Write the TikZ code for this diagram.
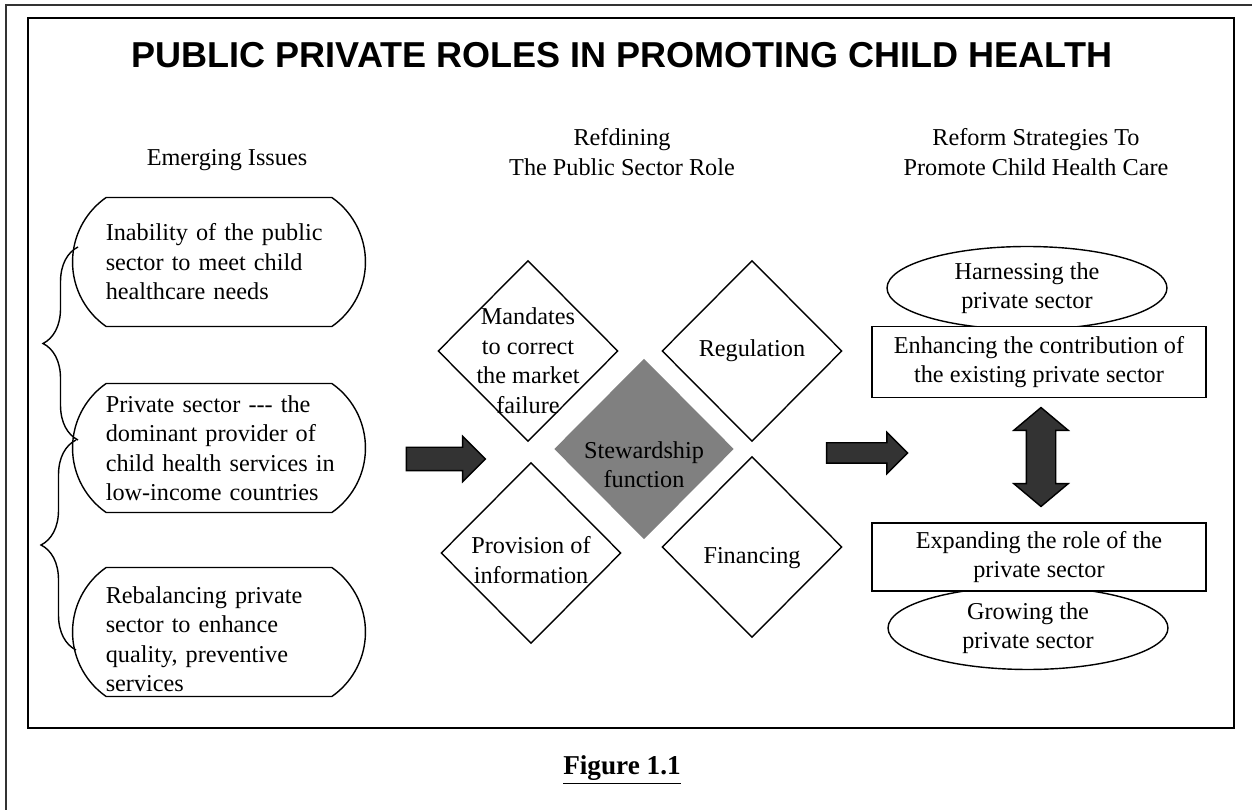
\documentclass[tikz,border=0pt]{standalone}
\usepackage{fontspec}
\setmainfont{Liberation Serif}
\newfontfamily\headfont{Liberation Sans}
\usetikzlibrary{shapes.geometric,shapes.misc,shapes.arrows,decorations.pathreplacing}

\begin{document}
\begin{tikzpicture}[x=0.02cm,y=-0.02cm,line width=0.8pt,
  font=\fontsize{13.8}{16.8}\selectfont,
  issue/.style={draw,rounded rectangle,rounded rectangle arc length=110,
    minimum width=5.86cm,minimum height=2.58cm,inner sep=0pt},
  issuetxt/.style={text width=4.6cm,align=left,inner sep=0pt,xshift=1pt},
  role/.style={draw,diamond,minimum width=3.6cm,minimum height=3.62cm,inner sep=0pt},
  roletxt/.style={align=center,inner sep=0pt},
  sector/.style={draw,ellipse,minimum width=5.6cm,minimum height=1.66cm,align=center,inner sep=0pt},
  strategy/.style={draw,fill=white,rectangle,minimum width=6.68cm,align=center,inner sep=0pt},
  blockarrow/.style={draw,fill=black!80,single arrow,single arrow head indent=0pt,inner sep=0pt},
  brace/.style={decorate,decoration={brace,amplitude=0.7cm}}]
\useasboundingbox (0,0) rectangle (1252,810);

% frames
\draw[black!80] (6,810) -- (6,5) -- (1252,5);
\draw[line width=1pt] (28,18) rectangle (1234,728);

\node[font=\headfont\bfseries\fontsize{20.5}{24}\selectfont] (title) at (622,55)
  {PUBLIC PRIVATE ROLES IN PROMOTING CHILD HEALTH};

% column heads
\node (head1) at (227,160) {Emerging Issues};
\node[align=center] (head2) at (622,152) {Refdining\\The Public Sector Role};
\node[align=center] (head3) at (1036,152) {Reform Strategies To\\Promote Child Health Care};

% emerging issues
\node[issue,label={[issuetxt]center:Inability of the public\\sector to meet child\\healthcare needs}] (issue1) at (219,262) {};
\node[issue,label={[issuetxt]center:Private sector -{}-{}- the\\dominant provider of\\child health services in\\low-income countries}] (issue2) at (219,448) {};
\node[issue,label={[issuetxt,yshift=-4pt]center:Rebalancing private\\sector to enhance\\quality, preventive\\services}] (issue3) at (219,632) {};
\draw[brace] (78,440) -- (78,247);
\draw[brace] (76,650) -- (76,440);

% public sector role
\node[role,label={[roletxt,yshift=-5.5pt]center:Mandates\\to correct\\the market\\failure}] (mandates) at (528,351) {};
\node[role,label={[roletxt]center:Regulation}] (regulation) at (752,351) {};
\node[role,label={[roletxt,yshift=-4pt]center:Provision of\\information}] (provision) at (531,553) {};
\node[role,label={[roletxt,yshift=-6.5pt]center:Financing}] (financing) at (752,547) {};
\node[role,draw=none,fill=black!50,label={[roletxt,yshift=-9pt]center:Stewardship\\function}] (steward) at (644,449) {};

% arrows between the columns
\node[blockarrow,minimum height=1.58cm,single arrow head extend=0.22cm] (arrow1) at (440,459) {\rule{0pt}{0.44cm}};
\node[blockarrow,minimum height=1.62cm,single arrow head extend=0.21cm] (arrow2) at (862,453) {\rule{0pt}{0.38cm}};

% reform strategies
\node[sector] (harness) at (1027,288) {Harnessing the\\private sector};
\node[sector] (grow) at (1028,628) {Growing the\\private sector};
\node[strategy,minimum height=1.42cm] (enhance) at (1039,362) {Enhancing the contribution of\\the existing private sector};
\node[strategy,minimum height=1.36cm] (expand) at (1039,557) {Expanding the role of the\\private sector};
\node[draw,fill=black!80,double arrow,rotate=90,double arrow head indent=0pt,
  double arrow tip angle=100,minimum height=1.98cm,
  double arrow head extend=0.25cm,inner sep=0pt] (link) at (1041,457) {\rule{0pt}{0.56cm}};

\node[font=\bfseries\fontsize{15.5}{18}\selectfont] (caption) at (622,770) {\underline{Figure 1.1}};
\end{tikzpicture}
\end{document}
